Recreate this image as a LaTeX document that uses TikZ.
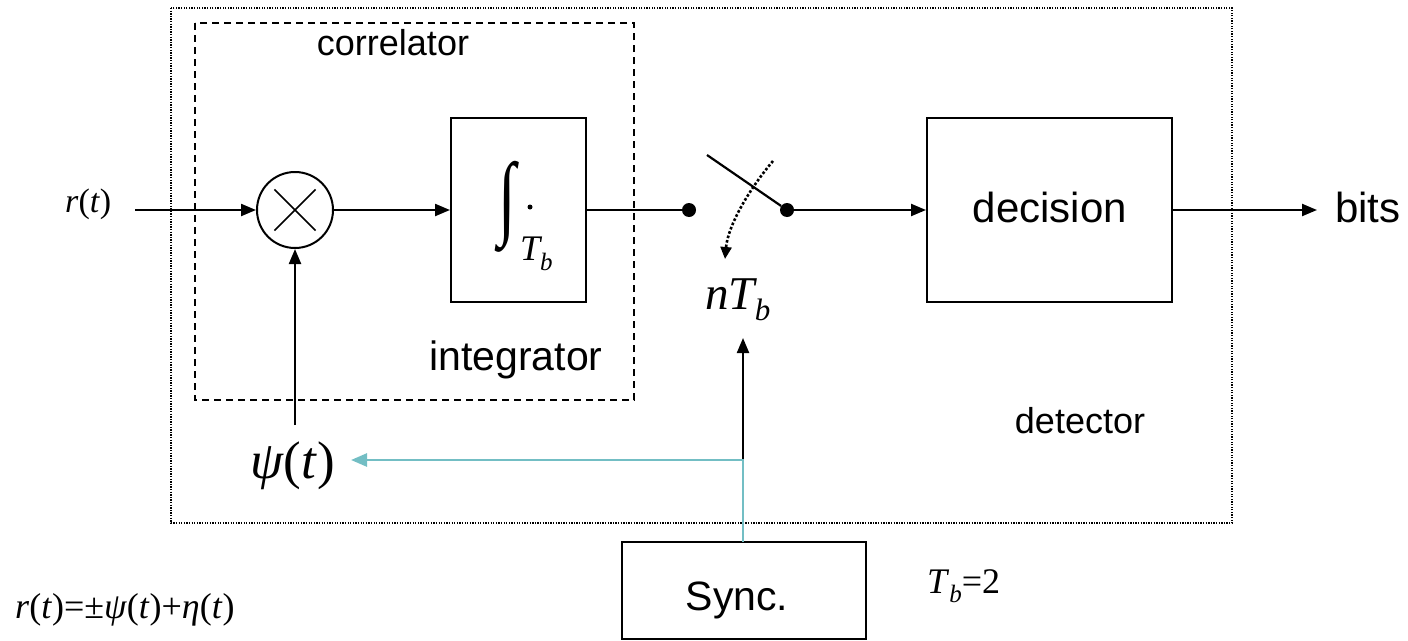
\documentclass[tikz,border=0pt]{standalone}
\usepackage{fontspec}
\setmainfont{Liberation Sans}
\newfontfamily\serif{Liberation Serif}
\usetikzlibrary{arrows.meta}
\definecolor{teal1}{RGB}{115,190,196}
\newcommand\fsz[1]{\fontsize{#1}{#1}\selectfont}
\begin{document}
\begin{tikzpicture}[x=1pt,y=-1pt,
  ln/.style={line width=2.2pt},
  arr/.style={line width=2.2pt,-{Triangle[length=15pt,width=12pt]}},
  blk/.style={draw,line width=2pt,inner sep=0pt},
  lbl/.style={inner sep=0pt,anchor=base},
  lblw/.style={inner sep=0pt,anchor=base west},
  dotn/.style={circle,fill,inner sep=0pt,minimum size=14pt}]
\useasboundingbox (0,0) rectangle (1408,640);
% outer boxes
\draw[line width=1.3pt,dash pattern=on 1.3pt off 1.3pt] (171,8) rectangle (1232,523);
\draw[line width=1.5pt,dash pattern=on 7pt off 5pt] (195,23) rectangle (634,400);
% blocks
\node[circle,draw,line width=2pt,minimum size=76pt,inner sep=0pt] (mult) at (295,210) {};
\draw[line width=1.5pt,shorten <=10pt,shorten >=10pt] (mult.north west) -- (mult.south east);
\draw[line width=1.5pt,shorten <=10pt,shorten >=10pt] (mult.north east) -- (mult.south west);
\node[blk,minimum width=135pt,minimum height=184pt] (integ) at (518.5,210) {};
\node[inner sep=0pt] (intsym) at (507,207) {\scalebox{1}[1.45]{\serif\fsz{64}∫}};
\node[circle,fill,inner sep=0pt,minimum size=5pt] (intdot) at (530,207) {};
\node[lblw] (intT) at (520,260) {\serif\fsz{36}\itshape T\raisebox{-10pt}{\fsz{25}b}};
\node[blk,minimum width=245pt,minimum height=184pt] (dec) at (1049.5,210) {};
\node[lbl] (declbl) at (1050,222) {\fsz{42}decision};
\node[blk,minimum width=244pt,minimum height=97pt] (sync) at (744,590.5) {};
\node[lbl] (synclbl) at (737,610) {\fsz{41}Sync.};
% dots of switch
\node[dotn] (dotL) at (689,210) {};
\node[dotn] (dotR) at (787,210) {};
\coordinate (blade) at (707,155);
\coordinate (arcS) at (773,161);
\coordinate (arcE) at (725,259);
% labels
\node[lblw] (rt) at (65,212) {\serif\fsz{34}\textit{r}(\textit{t})};
\node[lblw] (psi) at (250,478) {\serif\fsz{53}\textit{ψ}(\textit{t})};
\node[lblw] (nTb) at (705,309) {\serif\fsz{47}\itshape nT\raisebox{-11pt}{\fsz{31}b}};
\node[lblw] (Tb2) at (927,593) {\serif\fsz{36}\textit{T}\raisebox{-9pt}{\fsz{25}\itshape b}=2};
\node[lblw] (eq) at (15,618) {\serif\fsz{36}\textit{r}(\textit{t})=±\textit{ψ}(\textit{t})+\textit{η}(\textit{t})};
\node[lbl] (corr) at (393,55) {\fsz{36}correlator};
\node[lbl] (intlbl) at (516,370) {\fsz{41}integrator};
\node[lbl] (det) at (1080,433) {\fsz{36}detector};
\node[lblw] (bits) at (1335,222) {\fsz{42}bits};
% connectors
\coordinate (rin) at (135,210);
\coordinate (bitsend) at (1317,210);
\coordinate (psitop) at (295,425);
\coordinate (psitip) at (351,460);
\coordinate (synctop) at (743,542);
\coordinate (nTtip) at (743,338);
\draw[arr] (rin) -- (mult.west);
\draw[arr] (mult.east) -- (integ.west);
\draw[ln] (integ.east) -- (dotL);
\draw[arr] (dotR) -- (dec.west);
\draw[arr] (dec.east) -- (bitsend);
\draw[ln] (blade) -- (dotR);
\draw[line width=2.6pt,dotted,-{Triangle[length=12pt,width=11pt]}] (arcS) .. controls (750,188) and (728,225) .. (arcE);
\draw[arr] (psitop) -- (mult.south);
\draw[arr] (synctop) -- (nTtip);
\draw[teal1,line width=2.6pt,-{Triangle[length=16pt,width=13pt]}] (synctop) |- (psitip);
\end{tikzpicture}
\end{document}
